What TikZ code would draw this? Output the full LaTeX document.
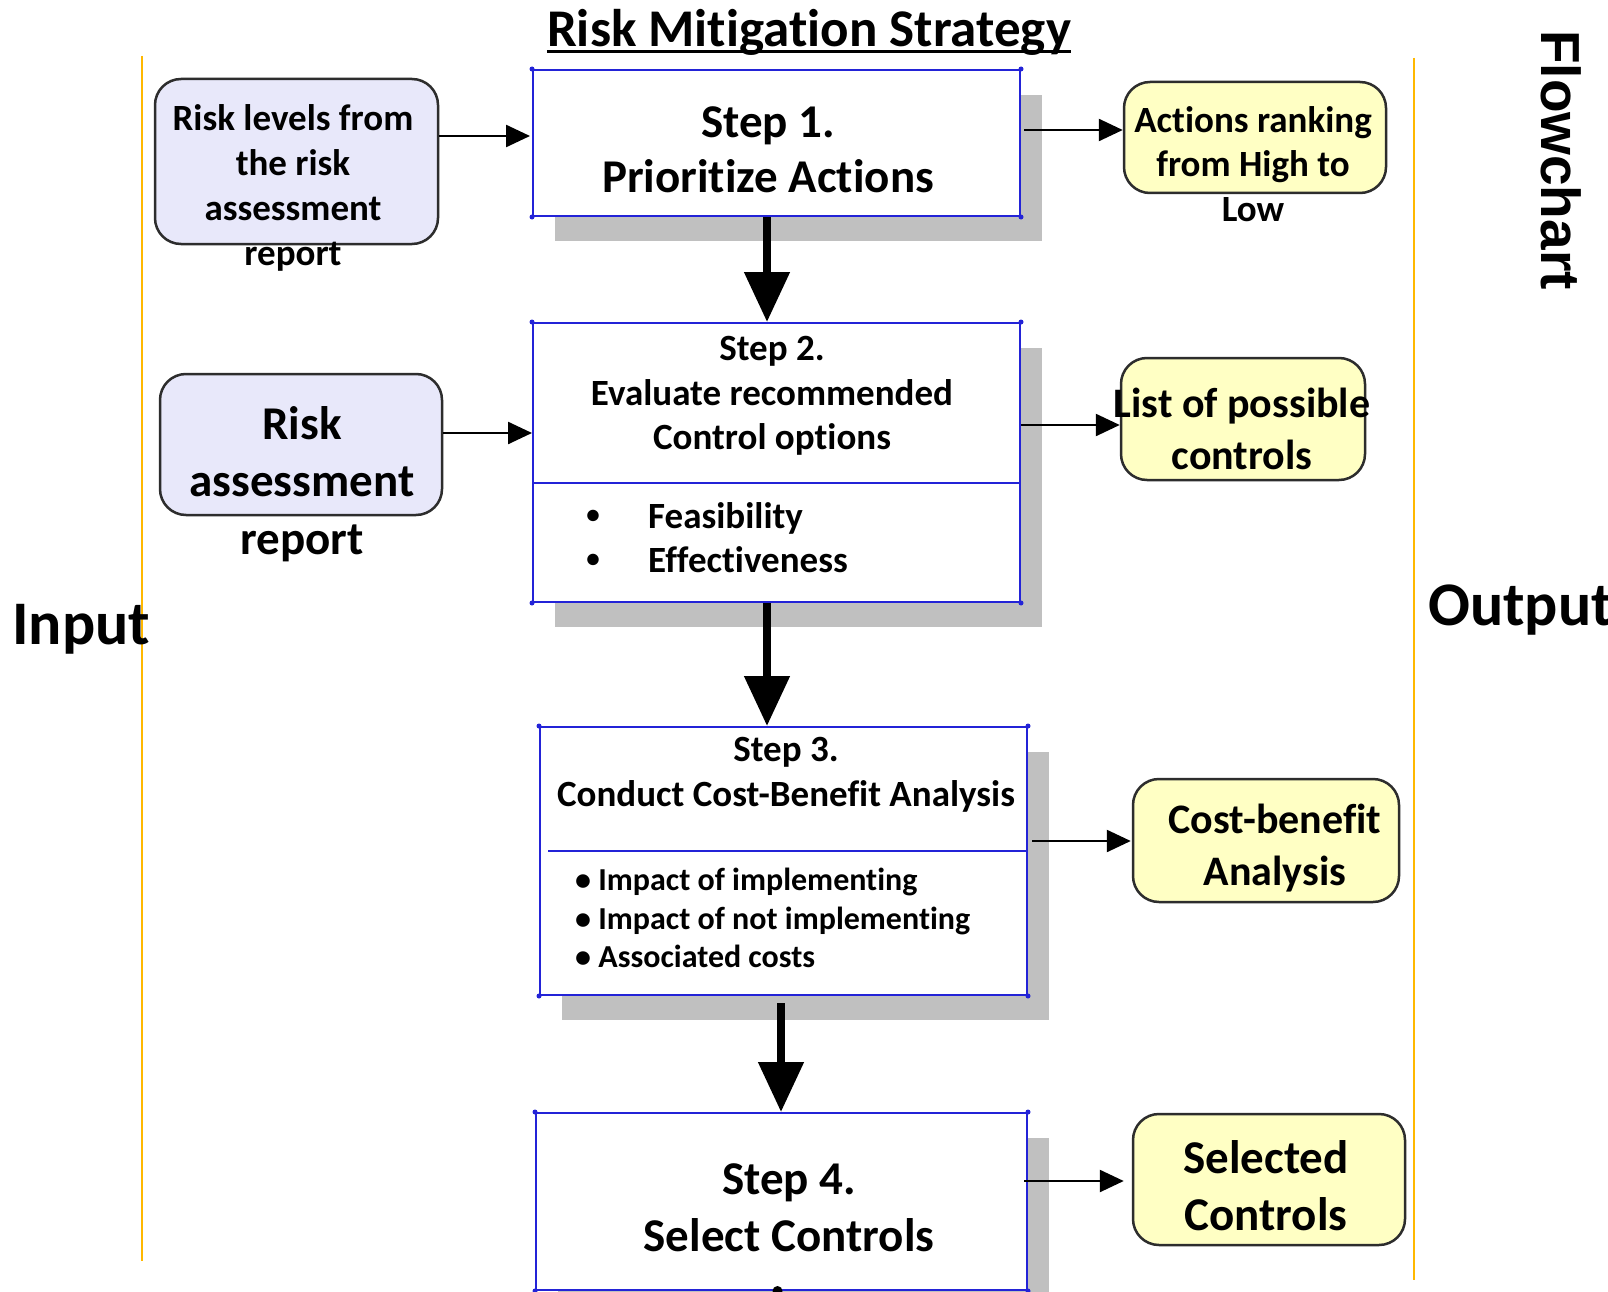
\documentclass[tikz,border=0pt]{standalone}
\usepackage{fontspec}
\setmainfont{Carlito}[Ligatures={NoCommon}]
\newfontfamily\arialfont{Liberation Sans}
\usetikzlibrary{arrows.meta,shadows,calc}
\definecolor{stepblue}{RGB}{35,35,215}
\definecolor{lav}{RGB}{232,232,250}
\definecolor{ylw}{RGB}{255,255,196}
\definecolor{shadowgray}{RGB}{192,192,192}
\definecolor{orangeline}{RGB}{255,184,0}
\definecolor{edgegray}{RGB}{45,45,45}
\newcommand\fsz[2]{\fontsize{#1pt}{#2pt}\selectfont\bfseries}
\begin{document}
\begin{tikzpicture}[x=1pt,y=-1pt,
  stepbox/.style={draw=stepblue,line width=2pt,fill=white,inner sep=0pt,rectangle,
    drop shadow={shadow xshift=22pt,shadow yshift=-25pt,fill=shadowgray,opacity=1,draw=none}},
  inbox/.style={draw=edgegray,line width=2.5pt,fill=lav,rounded corners=26pt,inner sep=0pt},
  outbox/.style={draw=edgegray,line width=2.5pt,fill=ylw,rounded corners=26pt,inner sep=0pt},
  txt/.style={inner sep=0pt,align=center},
  bigarrow/.style={line width=8pt,-{Triangle[width=44pt,length=50pt]}},
  smallarrow/.style={line width=2.5pt,-{Triangle[width=22pt,length=24pt]}},
  sideline/.style={draw=orangeline,line width=2pt},
  corner/.style={fill=stepblue}
]
\path[use as bounding box] (0,0) rectangle (1608,1292);
\clip (0,0) rectangle (1608,1292);
\fill[white] (0,0) rectangle (1608,1292);

% side lines
\coordinate (lt) at (141.5,56);
\coordinate (lb) at (141.5,1261);
\coordinate (rt) at (1414,58);
\coordinate (rb) at (1414,1280);
\draw[sideline] (lt) -- (lb);
\draw[sideline] (rt) -- (rb);

% title
\node[anchor=base,font=\fsz{53}{63},inner sep=0pt] (title) at (809,47) {Risk Mitigation Strategy};
\draw[line width=3pt] ([yshift=-5pt]title.base west) -- ([yshift=-5pt]title.base east);

% labels
\node[anchor=west,font=\fsz{62}{74},inner sep=0pt] (inlab) at (12,629) {Input};
\node[anchor=west,font=\fsz{62}{74},inner sep=0pt] (outlab) at (1428,610) {Output};
\node[rotate=-90,font=\arialfont\fsz{55}{66},inner sep=0pt] (flow) at (1561,160) {Flowchart};

% step boxes
\node[stepbox,minimum width=487pt,minimum height=146pt] (s1) at (776.5,143) {};
\node[stepbox,minimum width=487pt,minimum height=279pt] (s2) at (776.5,462.5) {};
\node[stepbox,minimum width=487pt,minimum height=268pt] (s3) at (783.5,861) {};
\node[stepbox,minimum width=491pt,minimum height=177pt] (s4) at (781.5,1201.5) {};
\draw[stepblue,line width=2pt] (s2.west |- 0,483) -- (s2.east |- 0,483);
\draw[stepblue,line width=2pt] (548,851) -- (s3.east |- 0,851);
\foreach \n in {s1,s2,s3,s4}
  \foreach \a in {north west,north east,south west,south east}
    \fill[corner] (\n.\a) circle (2.5pt);

% step texts
\node[txt,font=\fsz{47}{55}] (t1) at (768,150) {Step 1.\\Prioritize Actions};
\node[txt,font=\fsz{37}{44.5}] (t2) at (772,396) {Step 2.\\Evaluate recommended\\Control options};
\node[txt,font=\fsz{27}{44}] (b2) at (593,539) {\textbullet\\\textbullet};
\node[txt,align=left,anchor=west,font=\fsz{37}{44}] (f2) at (648,538) {Feasibility\\Effectiveness};
\node[txt,font=\fsz{37}{45}] (t3) at (786,774.5) {Step 3.\\Conduct Cost-Benefit Analysis};
\node[txt,align=left,anchor=west,font=\fsz{32}{38.5}] (f3) at (575,918) {\textbullet{} Impact of implementing\\\textbullet{} Impact of not implementing\\\textbullet{} Associated costs};
\node[txt,font=\fsz{47}{57}] (t4) at (789,1208) {Step 4.\\Select Controls};

% input boxes
\node[inbox,minimum width=283pt,minimum height=165pt] (l1) at (296.5,161.5) {};
\node[txt,font=\fsz{37}{45}] (l1t) at (293,188) {Risk levels from\\the risk\\assessment\\report};
\node[inbox,minimum width=282pt,minimum height=141pt] (l2) at (301,444.5) {};
\node[txt,font=\fsz{47}{57.5}] (l2t) at (302,484) {Risk\\assessment\\report};

% output boxes
\node[outbox,minimum width=262pt,minimum height=111pt] (r1) at (1255,137.5) {};
\node[txt,font=\fsz{37}{44.5}] (r1t) at (1253,164) {Actions ranking\\from High to\\Low};
\node[outbox,minimum width=244pt,minimum height=122pt] (r2) at (1243,419) {};
\node[txt,font=\fsz{42}{52}] (r2t) at (1242,429) {List of possible\\controls};
\node[outbox,minimum width=266pt,minimum height=123pt] (r3) at (1266,840.5) {};
\node[txt,font=\fsz{42}{52}] (r3t) at (1275,848) {Cost-benefit\\Analysis};
\node[outbox,minimum width=272pt,minimum height=131pt] (r4) at (1269,1179.5) {};
\node[txt,font=\fsz{47}{57}] (r4t) at (1266,1186) {Selected\\Controls};

% vertical flow arrows
\draw[bigarrow] ([xshift=-9.5pt]s1.south) -- ([xshift=-9.5pt]s2.north);
\draw[bigarrow] ([xshift=-9.5pt]s2.south) -- ([xshift=-9.5pt]s2.south |- s3.north);
\draw[bigarrow] ([xshift=-2.5pt,yshift=-7pt]s3.south) -- ([xshift=-0.5pt]s4.north);
\fill ([xshift=-4pt]s4.south) circle (5pt);

% input arrows
\draw[smallarrow] (l1.east |- 0,136) -- ([xshift=-2pt]s1.west |- 0,136);
\draw[smallarrow] (l2.east |- 0,433) -- (s2.west |- 0,433);

% output arrows
\draw[smallarrow] ([xshift=3pt]s1.east |- 0,130) -- (r1.west |- 0,130);
\draw[smallarrow] (s2.east |- 0,425) -- (r2.west |- 0,425);
\draw[smallarrow] ([xshift=4pt]s3.east |- 0,841) -- ([xshift=-1pt]r3.west |- 0,841);
\draw[smallarrow] ([xshift=-4pt]s4.east |- 0,1181) -- ([xshift=-8pt]r4.west |- 0,1181);
\end{tikzpicture}
\end{document}
